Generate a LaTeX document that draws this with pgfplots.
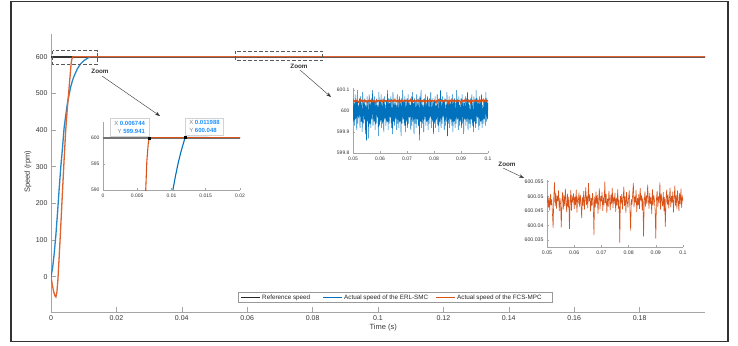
\documentclass[border=0pt]{standalone}
\usepackage{fontspec}
\setmainfont{Liberation Sans}
\usepackage{pgfplots}
\pgfplotsset{compat=1.18}
\usepackage{pgfplotstable}
\usetikzlibrary{arrows.meta}

\definecolor{mblue}{RGB}{0,114,189}
\definecolor{morange}{RGB}{217,83,25}
\definecolor{axgray}{RGB}{165,165,165}
\definecolor{txtgray}{RGB}{55,55,55}
\definecolor{tipblue}{RGB}{30,144,255}

% ERL-SMC speed in the zoom window 0.05--0.1 s (samples every 0.0002 s)
\pgfplotstableread[row sep=\\]{
v\\
600.06\\599.95\\600.04\\599.93\\600.08\\599.96\\600.05\\599.91\\600.10\\599.94\\
600.03\\599.97\\600.06\\599.92\\600.07\\599.95\\600.04\\599.90\\600.09\\599.94\\
600.05\\599.96\\600.06\\599.89\\600.03\\599.86\\600.07\\599.95\\600.05\\599.87\\
600.08\\599.94\\600.04\\599.92\\600.06\\599.96\\600.10\\599.93\\600.05\\599.95\\
600.07\\599.91\\600.04\\599.94\\600.06\\599.97\\600.03\\599.88\\600.09\\599.93\\
600.05\\599.95\\600.08\\599.92\\600.04\\599.94\\600.06\\599.90\\600.07\\599.96\\
600.03\\599.93\\600.05\\599.95\\600.10\\599.91\\600.06\\599.94\\600.04\\599.97\\
600.07\\599.92\\600.05\\599.89\\600.09\\599.95\\600.04\\599.93\\600.06\\599.96\\
600.03\\599.91\\600.08\\599.94\\600.05\\599.92\\600.07\\599.95\\600.04\\599.88\\
600.06\\599.94\\600.10\\599.96\\600.05\\599.93\\600.07\\599.90\\600.04\\599.95\\
600.06\\599.92\\600.08\\599.94\\600.05\\599.97\\600.03\\599.91\\600.07\\599.93\\
600.09\\599.95\\600.04\\599.89\\600.06\\599.94\\600.05\\599.92\\600.08\\599.96\\
600.04\\599.93\\600.06\\599.86\\600.07\\599.95\\600.10\\599.92\\600.05\\599.94\\
600.03\\599.90\\600.06\\599.96\\600.08\\599.93\\600.04\\599.95\\600.07\\599.91\\
600.05\\599.94\\600.06\\599.97\\600.09\\599.92\\600.04\\599.95\\600.06\\599.89\\
600.05\\599.94\\600.07\\599.92\\600.03\\599.96\\600.08\\599.93\\600.05\\599.90\\
600.06\\599.95\\600.10\\599.92\\600.04\\599.94\\600.07\\599.97\\600.05\\599.91\\
600.06\\599.93\\600.03\\599.95\\600.09\\599.88\\600.05\\599.94\\600.07\\599.92\\
600.04\\599.96\\600.06\\599.93\\600.08\\599.90\\600.05\\599.95\\600.06\\599.92\\
600.04\\599.94\\600.10\\599.96\\600.05\\599.91\\600.07\\599.93\\600.03\\599.95\\
600.06\\599.92\\600.08\\599.94\\600.05\\599.89\\600.04\\599.96\\600.07\\599.93\\
600.06\\599.95\\600.09\\599.91\\600.05\\599.94\\600.03\\599.92\\600.06\\599.96\\
600.08\\599.93\\600.04\\599.90\\600.07\\599.95\\600.05\\599.92\\600.10\\599.94\\
600.06\\599.97\\600.04\\599.91\\600.07\\599.93\\600.05\\599.95\\600.08\\599.92\\
600.03\\599.94\\600.06\\599.96\\600.05\\599.93\\600.09\\599.95\\600.06\\599.96\\
600.04\\
}\bluenoise

% FCS-MPC speed minus 600 rpm in the zoom window 0.05--0.1 s (samples every 0.00025 s)
\pgfplotstableread[row sep=\\]{
dev\\
0.0478\\0.0502\\0.0461\\0.0495\\0.0452\\0.0508\\0.0470\\0.0489\\0.0440\\0.0391\\
0.0497\\0.0548\\0.0466\\0.0512\\0.0458\\0.0501\\0.0483\\0.0520\\0.0449\\0.0494\\
0.0472\\0.0393\\0.0488\\0.0515\\0.0455\\0.0503\\0.0467\\0.0526\\0.0479\\0.0446\\
0.0509\\0.0462\\0.0498\\0.0388\\0.0475\\0.0521\\0.0451\\0.0496\\0.0484\\0.0510\\
0.0457\\0.0500\\0.0470\\0.0523\\0.0444\\0.0492\\0.0480\\0.0513\\0.0463\\0.0505\\
0.0476\\0.0425\\0.0497\\0.0468\\0.0518\\0.0454\\0.0490\\0.0531\\0.0471\\0.0502\\
0.0459\\0.0545\\0.0483\\0.0507\\0.0448\\0.0494\\0.0466\\0.0511\\0.0478\\0.0367\\
0.0499\\0.0462\\0.0516\\0.0473\\0.0504\\0.0441\\0.0488\\0.0527\\0.0456\\0.0501\\
0.0482\\0.0514\\0.0450\\0.0496\\0.0469\\0.0550\\0.0477\\0.0509\\0.0443\\0.0492\\
0.0465\\0.0519\\0.0487\\0.0453\\0.0506\\0.0474\\0.0528\\0.0460\\0.0498\\0.0481\\
0.0512\\0.0447\\0.0495\\0.0470\\0.0524\\0.0458\\0.0489\\0.0341\\0.0501\\0.0476\\
0.0508\\0.0455\\0.0493\\0.0533\\0.0467\\0.0500\\0.0442\\0.0515\\0.0484\\0.0461\\
0.0497\\0.0520\\0.0451\\0.0382\\0.0490\\0.0472\\0.0510\\0.0546\\0.0463\\0.0499\\
0.0478\\0.0522\\0.0446\\0.0494\\0.0468\\0.0507\\0.0457\\0.0529\\0.0485\\0.0503\\
0.0452\\0.0498\\0.0362\\0.0480\\0.0517\\0.0464\\0.0502\\0.0475\\0.0540\\0.0491\\
0.0458\\0.0511\\0.0473\\0.0496\\0.0440\\0.0525\\0.0469\\0.0505\\0.0486\\0.0451\\
0.0355\\0.0493\\0.0519\\0.0462\\0.0500\\0.0477\\0.0548\\0.0454\\0.0509\\0.0483\\
0.0466\\0.0514\\0.0449\\0.0497\\0.0395\\0.0488\\0.0523\\0.0471\\0.0506\\0.0459\\
0.0492\\0.0530\\0.0463\\0.0501\\0.0478\\0.0516\\0.0445\\0.0495\\0.0537\\0.0468\\
0.0504\\0.0457\\0.0520\\0.0482\\0.0449\\0.0511\\0.0474\\0.0526\\0.0460\\0.0498\\
0.0485\\
}\orangenoise

\pgfplotsset{
  matlab/.style={
    scale only axis,
    axis x line*=bottom, axis y line*=left,
    axis line style={draw=axgray, line width=1pt},
    tick align=inside,
    tick style={draw=axgray, line width=0.6pt},
    tick label style={text=txtgray},
    scaled x ticks=false, scaled y ticks=false,
  },
}

\begin{document}
\begin{tikzpicture}
\useasboundingbox (0pt,0pt) rectangle (738pt,-345pt);
\fill[white] (0pt,0pt) rectangle (738pt,-345pt);

% ---------------- main axis ----------------
\begin{axis}[matlab,
  at={(51pt,-312pt)}, anchor=south west,
  width=654pt, height=278pt,
  xmin=0, xmax=0.2, ymin=-96, ymax=662,
  major tick length=5pt,
  xtick={0,0.02,0.04,0.06,0.08,0.1,0.12,0.14,0.16,0.18},
  xticklabels={0,0.02,0.04,0.06,0.08,0.1,0.12,0.14,0.16,0.18},
  ytick={0,100,200,300,400,500,600},
  yticklabels={0,100,200,300,400,500,600},
  tick label style={font=\fontsize{7}{8}\selectfont},
  xlabel={Time (s)}, ylabel={Speed (rpm)},
  label style={font=\fontsize{7.5}{9}\selectfont, text=txtgray},
  xlabel style={at={(axis description cs:0.508,-0.0576)}, anchor=center},
  ylabel style={at={(axis description cs:-0.0352,0.504)}, anchor=center},
]
\addplot[draw=black!80, line width=1.8pt] coordinates {(0,600) (0.2,600)};
\addplot[draw=mblue!85, line width=1.3pt] coordinates {
(0,0) (0.0005,25) (0.001,65) (0.0015,115) (0.002,175) (0.0025,240) (0.003,300)
(0.0035,350) (0.004,405) (0.0045,440) (0.005,472) (0.0055,495) (0.006,517)
(0.0065,533) (0.007,546) (0.008,566) (0.009,580) (0.010,589) (0.011,595)
(0.012,600) (0.2,600)};
\addplot[draw=morange!90, line width=1.3pt] coordinates {
(0,0) (0.0004,-22) (0.0008,-40) (0.0012,-52) (0.0015,-55) (0.0018,-42)
(0.0021,-10) (0.0025,55) (0.003,140) (0.0035,230) (0.004,318) (0.0045,400)
(0.005,460) (0.0055,512) (0.006,565) (0.0062,585) (0.0064,594) (0.0066,598.6)
(0.006744,599.941) (0.007,600) (0.2,600)};
\end{axis}

% legend (drawn as a box with three keys)
\begin{scope}[every node/.style={font=\fontsize{6.3}{7}\selectfont, text=black!85, anchor=west, inner sep=0pt}]
\draw[gray!80, fill=white, line width=0.5pt] (238pt,-292.5pt) rectangle (552pt,-302.5pt);
\draw[black!85, line width=1.5pt] (241pt,-297.5pt) -- (260pt,-297.5pt);
\node at (262pt,-297.5pt) {Reference speed};
\draw[mblue, line width=1.5pt] (323pt,-297.5pt) -- (342pt,-297.5pt);
\node at (344pt,-297.5pt) {Actual speed of the ERL-SMC};
\draw[morange, line width=1.5pt] (436pt,-297.5pt) -- (455pt,-297.5pt);
\node at (457pt,-297.5pt) {Actual speed of the FCS-MPC};
\end{scope}

% zoom boxes, labels and arrows
\draw[dash pattern=on 3.5pt off 2pt, draw=black!65, line width=0.7pt]
  (52.7pt,-50.7pt) rectangle (97.7pt,-64pt);
\draw[dash pattern=on 3.5pt off 2pt, draw=black!65, line width=0.7pt]
  (235.7pt,-51pt) rectangle (322pt,-60.7pt);
\node[font=\bfseries\fontsize{6.3}{7}\selectfont, text=black!80] at (100pt,-71.5pt) {Zoom};
\node[font=\bfseries\fontsize{6.3}{7}\selectfont, text=black!80] at (299pt,-66pt) {Zoom};
\node[font=\bfseries\fontsize{6.3}{7}\selectfont, text=black!80] at (507pt,-164pt) {Zoom};
\draw[-{Stealth[length=5pt,width=3.5pt]}, line width=0.4pt, black!80] (102pt,-76pt) -- (160pt,-116pt);
\draw[-{Stealth[length=5pt,width=3.5pt]}, line width=0.4pt, black!80] (300pt,-70pt) -- (331pt,-97pt);
\draw[-{Stealth[length=5pt,width=3.5pt]}, line width=0.4pt, black!80] (503pt,-168pt) -- (524pt,-178pt);

% ---------------- inset 1 ----------------
\begin{axis}[matlab,
  at={(103pt,-190pt)}, anchor=south west,
  width=137pt, height=68pt,
  xmin=0, xmax=0.02, ymin=590, ymax=603,
  clip mode=individual,
  major tick length=2pt,
  xtick={0,0.005,0.01,0.015,0.02},
  xticklabels={0,0.005,0.01,0.015,0.02},
  ytick={590,595,600}, yticklabels={590,595,600},
  tick label style={font=\fontsize{5}{6}\selectfont},
]
\addplot[black!55, line width=1.8pt] coordinates {(0,600) (0.02,600)};
\addplot[mblue, line width=1.1pt] coordinates {
(0.0102,590) (0.0106,592.8) (0.011,595.3) (0.0114,597.4) (0.0118,599.2)
(0.011988,600.048) (0.02,600)};
\addplot[morange, line width=1.1pt] coordinates {
(0.00618,588) (0.0064,595.5) (0.0066,598.8) (0.006744,599.941) (0.0068,600) (0.02,600)};
\addplot[only marks, mark=square*, mark size=0.8pt, black] coordinates {
(0.006744,599.941) (0.011988,600.048)};
\node[anchor=south east, yshift=2pt, draw=gray!35, fill=white, inner xsep=4pt, inner ysep=2.5pt,
  align=right, font=\fontsize{6}{8}\selectfont]
  at (axis cs:0.006744,599.941)
  {\textcolor{gray}{X} \textcolor{tipblue}{\bfseries 0.006744}\\
   \textcolor{gray}{Y} \textcolor{tipblue}{\bfseries 599.941}};
\node[anchor=south west, yshift=2pt, draw=gray!35, fill=white, inner xsep=4pt, inner ysep=2.5pt,
  align=left, font=\fontsize{6}{8}\selectfont]
  at (axis cs:0.011988,600.048)
  {\textcolor{gray}{X} \textcolor{tipblue}{\bfseries 0.011988}\\
   \textcolor{gray}{Y} \textcolor{tipblue}{\bfseries 600.048}};
\end{axis}

% ---------------- inset 2 ----------------
\begin{axis}[matlab,
  at={(353pt,-153pt)}, anchor=south west,
  width=135pt, height=65pt,
  xmin=0.05, xmax=0.1, ymin=599.8, ymax=600.11,
  major tick length=2pt,
  xtick={0.05,0.06,0.07,0.08,0.09,0.1},
  xticklabels={0.05,0.06,0.07,0.08,0.09,0.1},
  ytick={599.8,599.9,600,600.1},
  yticklabels={599.8,599.9,600,600.1},
  tick label style={font=\fontsize{5}{6}\selectfont},
]
\addplot[mblue, line width=0.5pt] table[x expr=0.05+0.0002*\coordindex, y=v] {\bluenoise};
\addplot[morange, line width=1.1pt] table[x expr=0.05+0.00025*\coordindex, y index=0, y expr=600+\thisrowno{0}] {\orangenoise};
\end{axis}

% ---------------- inset 3 (values shown as 600 + dev) ----------------
\begin{axis}[matlab,
  at={(547pt,-247pt)}, anchor=south west,
  width=136pt, height=67pt,
  xmin=0.05, xmax=0.1, ymin=0.0326, ymax=0.0556,
  major tick length=2pt,
  xtick={0.05,0.06,0.07,0.08,0.09,0.1},
  xticklabels={0.05,0.06,0.07,0.08,0.09,0.1},
  ytick={0.035,0.04,0.045,0.05,0.055},
  yticklabels={600.035,600.04,600.045,600.05,600.055},
  tick label style={font=\fontsize{5.2}{6}\selectfont},
]
\addplot[morange, line width=0.6pt] table[x expr=0.05+0.00025*\coordindex, y=dev] {\orangenoise};
\end{axis}

% outer frame
\draw[line width=1.5pt, draw=black!80] (11pt,-1.5pt) rectangle (728pt,-341.5pt);
\end{tikzpicture}
\end{document}
